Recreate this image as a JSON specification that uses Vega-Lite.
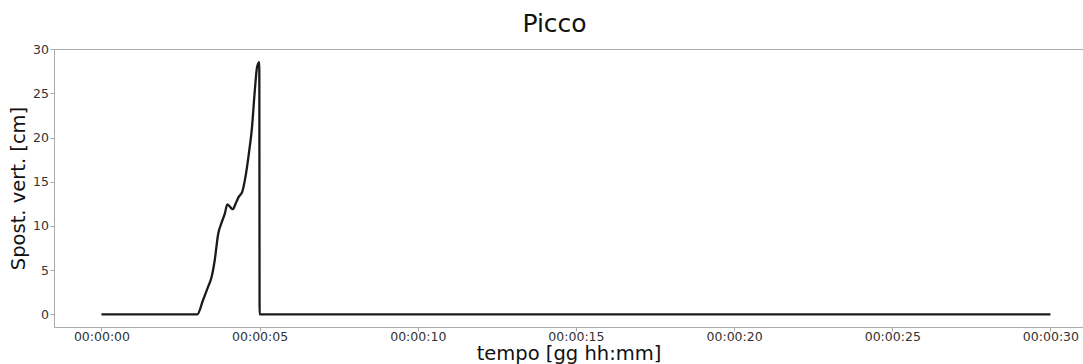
{
  "$schema": "https://vega.github.io/schema/vega-lite/v6.json",
  "autosize": "none",
  "width": 1029,
  "height": 278,
  "padding": {"left": 54, "top": 49, "right": 0, "bottom": 37},
  "background": "white",
  "title": {"text": "Picco", "fontSize": 25, "font": "DejaVu Sans", "fontWeight": "normal", "color": "#111", "anchor": "middle", "dx": -14, "offset": 6},
  "config": {
    "view": {"stroke": "#aaaaaa", "strokeWidth": 1},
    "axis": {"font": "DejaVu Sans", "labelFont": "DejaVu Sans", "titleFont": "DejaVu Sans", "grid": false, "domain": false, "tickColor": "#aaaaaa", "tickSize": 4, "labelFontSize": 12.5, "labelColor": "#333", "titleFontSize": 19.5, "titleFontWeight": "normal", "titleColor": "#111"}
  },
  "data": {"values": [
    {"t": 0, "v": 0},
    {"t": 3.03, "v": 0},
    {"t": 3.21, "v": 1.6},
    {"t": 3.37, "v": 3.1},
    {"t": 3.48, "v": 4.2},
    {"t": 3.58, "v": 6.1},
    {"t": 3.69, "v": 9.1},
    {"t": 3.79, "v": 10.3},
    {"t": 3.90, "v": 11.4},
    {"t": 3.98, "v": 12.45},
    {"t": 4.06, "v": 12.2},
    {"t": 4.15, "v": 11.9},
    {"t": 4.26, "v": 12.7},
    {"t": 4.34, "v": 13.3},
    {"t": 4.45, "v": 13.85},
    {"t": 4.55, "v": 15.5},
    {"t": 4.66, "v": 18.2},
    {"t": 4.76, "v": 21.2},
    {"t": 4.85, "v": 25.4},
    {"t": 4.92, "v": 28.0},
    {"t": 4.99, "v": 28.55},
    {"t": 5.0, "v": 0},
    {"t": 30, "v": 0}
  ]},
  "mark": {"type": "line", "color": "#1a1a1a", "strokeWidth": 2.3, "interpolate": "monotone"},
  "encoding": {
    "x": {"field": "t", "type": "quantitative", "scale": {"domain": [-1.5, 31.03], "nice": false, "zero": false},
      "axis": {"values": [0, 5, 10, 15, 20, 25, 30], "labelExpr": "'00:00:' + (datum.value < 10 ? '0' : '') + datum.value", "title": "tempo [gg hh:mm]", "labelPadding": -1, "titleBaseline": "alphabetic", "titleY": 32}},
    "y": {"field": "v", "type": "quantitative", "scale": {"domain": [-1.43, 30.03], "nice": false, "zero": false},
      "axis": {"values": [0, 5, 10, 15, 20, 25, 30], "title": "Spost. vert. [cm]", "labelPadding": 1.5, "titlePadding": 4}}
  }
}
